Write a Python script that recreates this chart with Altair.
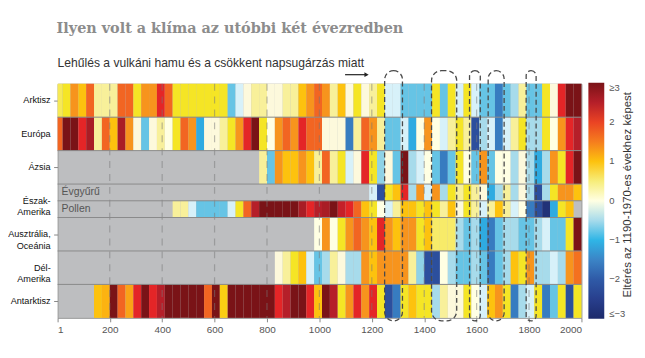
import altair as alt
import pandas as pd

# 30-year bins; bin k covers [start, start+30), last one 1970-2000
bin_start = list(range(-10, 1990, 30))

arktisz = [0.6, 0.7, 1.3, 1.0, 1.7, 0.4, 0.4, 0.4, 1.7, 1.7,
           0.7, 1.3, 1.3, 2.2, 1.7, 0.7, 0.7, 0.7, 0.7, 0.7,
           0.7, 0.7, -0.8, -0.25, 0.15, 0.4, 0.4, 0.15, 0.15, 0.4,
           0.4, 1.0, 1.3, 1.7, 1.3, 0.4, 1.0, 0.15, 0.7, 0.15,
           0.4, 0.7, -0.25, -0.25, -0.8, -0.8, -0.8, -0.8, 0.7, -0.8,
           0.7, -0.25, 0.7, -0.25, -0.8, -0.8, -1.6, -0.8, -0.5, 0.4,
           -0.8, -0.8, 0.7, 0.15, 2.2, 3.0, 3.0]
europa = [1.7, 3.0, 3.0, 2.2, 2.6, 0.4, 1.7, 1.0, 2.6, 1.3,
          0.15, -0.8, 0.15, 0.4, 0.0, 0.7, 1.7, 1.3, -1.1, 0.15,
          0.15, 0.4, 0.7, 1.3, 2.2, 3.0, 0.7, 0.0, 1.3, 1.7,
          1.3, 2.2, 1.7, 1.7, 0.15, 0.15, 0.15, -1.6, 0.4, 1.7,
          1.3, 0.4, -0.8, -0.8, -0.25, -1.1, 0.0, 1.3, 0.0, -0.25,
          0.4, 0.7, 0.4, -2.2, -0.5, -0.25, -1.6, -0.25, 0.4, 0.7,
          -0.5, -0.5, 0.7, 0.0, 1.3, 2.2, 2.5]
azsia = [None] * 26 + [
          0.4, -0.8, 1.3, 1.0, 1.0, 1.3, 1.0, 0.4, 1.7, 0.4,
          0.7, -0.25, 0.15, 2.2, 0.7, -0.6, 0.15, -0.8, 3.0, -0.5,
          -0.25, 0.0, -0.8, -1.6, -0.8, 0.7, 0.0, -0.8, 1.3, -0.8,
          0.0, 0.0, -0.5, 0.15, -0.5, -1.1, -0.5, 1.3, 0.7, 2.2, 3.0]
evgyuru = [None] * 40 + [
          -0.25, -2.2, 0.7, 1.0, 2.2, -0.5, 1.3, -0.25, 1.3, -0.5,
          0.7, 0.4, 0.7, 0.4, 0.15, -1.1, -0.5, 0.4, -0.5, 0.15,
          -0.5, -2.2, -0.5, 0.7, 1.3, 1.3, 1.0]
pollen = [None] * 15 + [
          0.4, 0.4, -0.25, -0.8, -0.8, -0.8, -0.8, -0.25, 0.7, 1.7,
          2.5, 3.0, 3.0, 3.0, 3.0, 3.0, 2.6, 2.2, 2.5, 2.6,
          3.0, 2.4, 2.2, 1.7, 1.0, 0.7, 0.0, -0.25, 0.4, 1.0,
          1.0, 0.7, 1.0, 0.7, 0.4, 1.0, 0.15, 0.7, 0.4, -0.25,
          0.4, 1.0, 0.4, -0.25, 0.0, -1.6, -2.2, -2.8, -1.1, 0.7,
          1.0, None]
ausztralia = [None] * 33 + [
          0.0, 1.3, 0.0, 0.7, 1.3, 1.7, 1.3, 1.0, 2.2, 1.3,
          1.0, 1.3, 1.3, 0.7, 1.0, 0.55, 0.55, 0.55, -0.5, -0.8,
          -0.5, -1.1, -1.6, -0.8, -0.5, -0.5, -0.8, -0.8, -0.5, -0.25,
          -0.8, -0.8, 0.7, 3.0]
delamerika = [None] * 28 + [
          0.15, 0.4, 0.7, 1.0, -0.25, -0.8, -0.5, 0.4, 0.15, -0.5,
          -0.5, 1.3, 1.0, 1.3, 1.3, 1.3, 1.3, 0.4, -0.6, -2.2,
          -2.2, 0.0, -0.5, -0.8, -0.8, -0.5, -0.8, -1.6, -0.8, -0.5,
          1.0, 0.7, 1.3, -0.5, -0.5, -0.25, -0.5, 1.3, 1.6]
antarktisz = [None] * 5 + [
          1.0, 1.1, 3.0, 1.7, 1.2, 2.2, 3.0, 2.2, 2.5, 3.0,
          3.0, 3.0, 3.0, 3.0, 1.7, 3.0, 0.9, 3.0, 3.0, 3.0,
          3.0, 3.0, 3.0, 2.2, 2.5, 3.0, 3.0, 2.2, 1.0, 3.0,
          2.5, 0.7, 1.3, 2.2, 1.3, 2.2, 0.7, -2.2, -1.6, 0.7,
          1.0, 0.7, 0.7, -0.5, 0.4, 0.15, 0.15, 0.7, 0.0, -0.25,
          1.0, 1.3, 0.7, -1.6, -0.5, -0.25, 0.7, -1.6, -0.8, 0.7,
          -2.2, 0.7]

series_names = ["Arktisz", "Európa", "Ázsia", "Évgyűrű", "Pollen",
                "Ausztrália", "Dél-Amerika", "Antarktisz"]
series_values = [arktisz, europa, azsia, evgyuru, pollen,
                 ausztralia, delamerika, antarktisz]

region_labels = ["Arktisz", "Európa", "Ázsia", "Észak-\nAmerika",
                 "Ausztrália,\nOceánia", "Dél-\nAmerika", "Antarktisz"]
sub_labels = ["Évgyűrű", "Pollen"]

# volcanic cooling periods (years)
cool_start = [1249, 1428, 1573, 1644, 1789]
cool_end = [1317, 1524, 1614, 1705, 1827]

tick_years = [1] + list(range(100, 2001, 100))
dash_years = list(range(200, 1801, 200))

# colour scale
c_dom = [-3, -2.5, -2, -1.5, -1, -0.6, -0.3, 0, 0.15, 0.4, 0.7, 1.0, 1.3, 1.7, 2.2, 2.5, 3]
c_rng = ["#1d2a6b", "#283f8d", "#2f5aa7", "#3b84c6", "#2fb5e6", "#8fd2e6", "#d3edf5",
         "#ffffff", "#fdf9dc", "#f8f09a", "#f5e525", "#fdc20e", "#f7941d", "#f26522",
         "#e42527", "#b51f29", "#7a1317"]

# ---- layout (band positions in row units) ----
band_top = [0, 1, 2, 3, 3.5, 4, 5, 6]
band_bot = [1, 2, 3, 3.5, 4, 5, 6, 7]
label_mid = [0.5, 1.5, 2.5, 3.5, 4.5, 5.5, 6.5]
sub_mid = [3.25, 3.75]

rows = []
for name, vals, t, b in zip(series_names, series_values, band_top, band_bot):
    for s, v in zip(bin_start, vals):
        if v is None:
            continue
        rows.append(dict(region=name, x0=max(s, 1), x1=s + 30, y0=t, y1=b, v=v))
df = pd.DataFrame(rows)

xs = alt.Scale(domain=[1, 2000], nice=False, zero=False)
ys = alt.Scale(domain=[0, 7], reverse=True, nice=False, zero=False)
cs = alt.Scale(domain=c_dom, range=c_rng)

cells = alt.Chart(df).mark_rect(strokeWidth=0.6).encode(
    x=alt.X("x0:Q", scale=xs, title=None,
            axis=alt.Axis(values=tick_years, format="d",
                          labelExpr="datum.value == 1 || datum.value % 200 == 0 ? datum.label : ''",
                          tickSize=4, domain=False, grid=False, labelColor="#555",
                          tickColor="#888", labelFontSize=10, labelPadding=3,
                          labelFont="Liberation Sans")),
    x2="x1:Q",
    y=alt.Y("y0:Q", scale=ys, title=None,
            axis=alt.Axis(values=label_mid, labels=False, tickSize=4, domain=False,
                          grid=False, tickColor="#888")),
    y2="y1:Q",
    color=alt.Color("v:Q", scale=cs, title=None,
                    legend=alt.Legend(type="gradient", orient="none", legendX=535, legendY=-1,
                                      direction="vertical", gradientLength=238,
                                      gradientThickness=16, values=[-3, -2, -1, 0, 1, 2, 3],
                                      labelExpr="datum.value >= 3 ? '≥3' : datum.value <= -3 ? '≤−3' : datum.value < 0 ? '−' + abs(datum.value) : datum.label",
                                      labelFontSize=9.5, labelColor="#555", labelOverlap=False,
                                      gradientStrokeWidth=0, labelOffset=5)),
)

dash_df = pd.DataFrame({"x": dash_years, "y0": [0] * len(dash_years), "y1": [7] * len(dash_years)})
dashes = alt.Chart(dash_df).mark_rule(strokeDash=[7, 6], color="#777", opacity=0.5,
                                      strokeWidth=1.2).encode(
    x=alt.X("x:Q", scale=xs), y=alt.Y("y0:Q", scale=ys), y2="y1:Q")

sep_df = pd.DataFrame({"y": band_bot[:-1]})
seps = alt.Chart(sep_df).mark_rule(color="#8a8a8a", strokeWidth=1).encode(
    y=alt.Y("y:Q", scale=ys))

ov_df = pd.DataFrame({"x0": cool_start, "x1": cool_end,
                      "y0": [-0.39] * 5, "y1": [7.09] * 5})
ovals = alt.Chart(ov_df).mark_rect(fill="transparent", stroke="#4a4a4a", strokeDash=[5, 3],
                                   strokeWidth=1.3, cornerRadius=10, clip=False).encode(
    x=alt.X("x0:Q", scale=xs), x2="x1:Q", y=alt.Y("y0:Q", scale=ys), y2="y1:Q")

lab_df = pd.DataFrame({"t": region_labels, "y": label_mid})
labels = alt.Chart(lab_df).mark_text(align="right", baseline="middle", lineBreak="\n",
                                     fontSize=9.2, font="Liberation Sans", color="#111",
                                     lineHeight=11.5).encode(
    x=alt.value(-7), y=alt.Y("y:Q", scale=ys), text="t:N")

sub_df = pd.DataFrame({"t": sub_labels, "y": sub_mid})
subs = alt.Chart(sub_df).mark_text(align="left", baseline="middle", fontSize=10.5,
                                   font="Liberation Sans", color="#555").encode(
    x=alt.value(4), y=alt.Y("y:Q", scale=ys), text="t:N")

arrow_df = pd.DataFrame({"x0": [1098], "x1": [1180], "y": [-0.27]})
arrow_line = alt.Chart(arrow_df).mark_rule(color="#222", strokeWidth=1.2, clip=False).encode(
    x=alt.X("x0:Q", scale=xs), x2="x1:Q", y=alt.Y("y:Q", scale=ys))
arrow_head = alt.Chart(arrow_df).mark_point(shape="triangle-right", filled=True, size=24,
                                            color="#222", opacity=1, clip=False).encode(
    x=alt.X("x1:Q", scale=xs), y=alt.Y("y:Q", scale=ys))

txt_df = pd.DataFrame({"title": ["Ilyen volt a klíma az utóbbi két évezredben"],
                       "note": ["Lehűlés a vulkáni hamu és a csökkent napsugárzás miatt"],
                       "cb": ["Eltérés az 1190-1970-es évekhez képest"]})
title = alt.Chart(txt_df).mark_text(align="left", baseline="alphabetic", fontSize=14.5,
                                    fontWeight="bold", font="DejaVu Serif",
                                    color="#8c8c8c").encode(
    x=alt.value(-1), y=alt.value(-51), text="title:N")
note = alt.Chart(txt_df).mark_text(align="left", baseline="alphabetic", fontSize=12.2,
                                   font="Liberation Sans", color="#333").encode(
    x=alt.value(0), y=alt.value(-17), text="note:N")
cbt = alt.Chart(txt_df).mark_text(align="center", baseline="middle", fontSize=11.5,
                                  font="Liberation Sans", color="#333", angle=270).encode(
    x=alt.value(575), y=alt.value(112), text="cb:N")

chart = alt.layer(cells, dashes, seps, ovals, labels, subs, arrow_line, arrow_head,
                  title, note, cbt).properties(
    width=528, height=236,
    autosize=alt.AutoSizeParams(type="none"),
    padding={"left": 50, "top": 75, "right": 56, "bottom": 22},
    background="white",
).configure_view(fill="#bdbec0", stroke="#999")

chart.save("out.html", embed_options={"renderer": "svg", "actions": False})
